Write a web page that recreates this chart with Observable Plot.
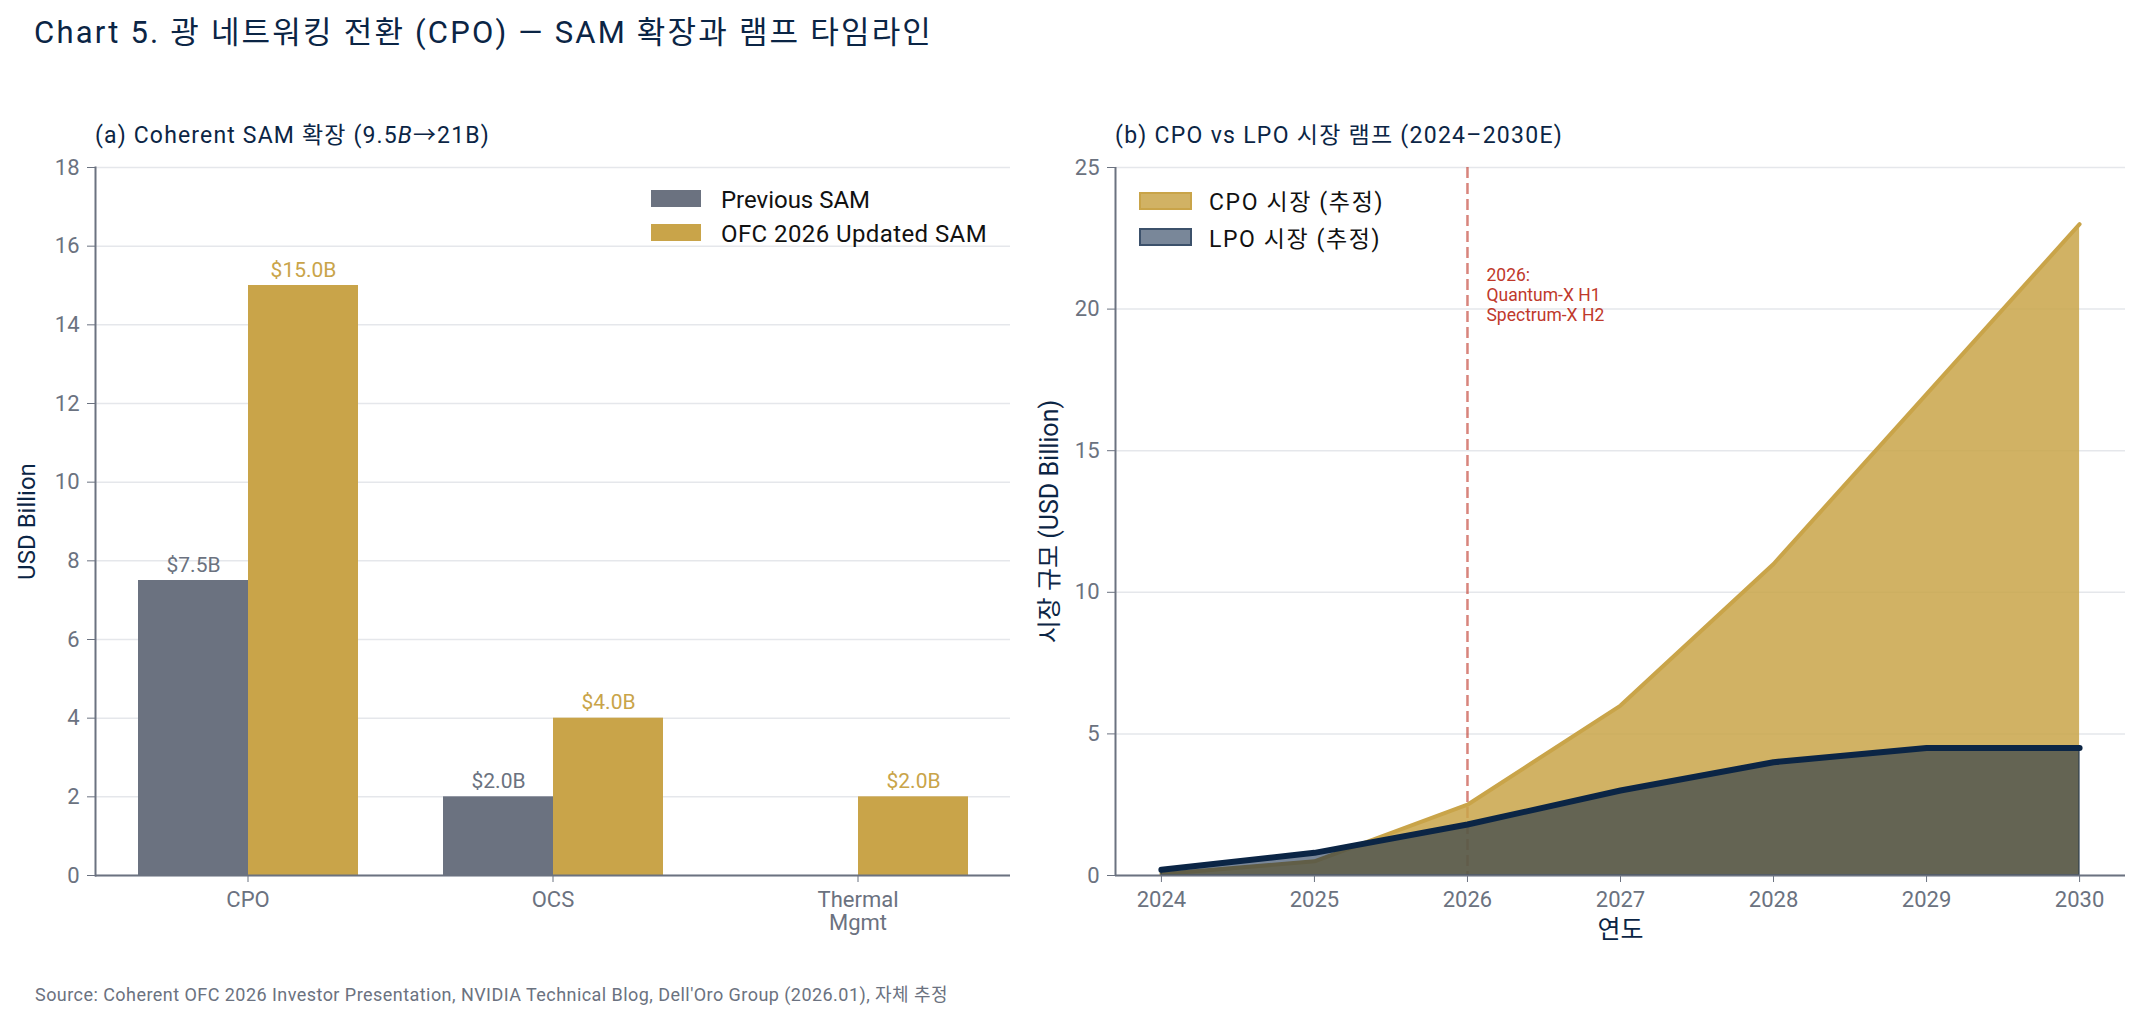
<!DOCTYPE html>
<html>
<head>
<meta charset="utf-8">
<script src="https://cdn.jsdelivr.net/npm/d3@7"></script>
<script src="https://cdn.jsdelivr.net/npm/@observablehq/plot@0.6"></script>
<style>
  body { margin: 0; background: #fff; }
  #page { position: relative; width: 2143px; height: 1021px; overflow: hidden; background: #fff;
          font-family: Roboto, "Noto Sans CJK KR", sans-serif; }
  .abs { position: absolute; white-space: nowrap; line-height: 1; }
  .plotbox { position: absolute; }
  .sw { position: absolute; box-sizing: border-box; }
</style>
</head>
<body>
<div id="page">
  <div class="abs fit" data-w="899" style="left:34px; top:17px; font-size:31px; color:#0b2545;">Chart 5. 광 네트워킹 전환 (CPO) — SAM 확장과 램프 타임라인</div>
  <div class="abs fit" data-w="395" style="left:95px; top:124px; font-size:23px; color:#0b2545;">(a) Coherent SAM 확장 (9.5<i>B</i>→21B)</div>
  <div class="abs fit" data-w="448" style="left:1115px; top:124px; font-size:23px; color:#0b2545;">(b) CPO vs LPO 시장 램프 (2024–2030E)</div>
  <div class="plotbox" id="left" style="left:0px; top:140px;"></div>
  <div class="plotbox" id="right" style="left:1000px; top:140px;"></div>

  <div class="sw" style="left:651px; top:190px; width:50px; height:17px; background:#6b7280;"></div>
  <div class="abs fit" data-w="149" style="left:721px; top:188px; font-size:24px; color:#111;">Previous SAM</div>
  <div class="sw" style="left:651px; top:224px; width:50px; height:17px; background:#c9a449;"></div>
  <div class="abs fit" data-w="266" style="left:721px; top:222px; font-size:24px; color:#111;">OFC 2026 Updated SAM</div>

  <div class="sw" style="left:1139px; top:192px; width:53px; height:18px; background:rgba(201,164,73,0.85); border:2px solid #c9a449;"></div>
  <div class="abs fit" data-w="175" style="left:1209px; top:191px; font-size:23px; color:#111;">CPO 시장 (추정)</div>
  <div class="sw" style="left:1139px; top:228px; width:53px; height:18px; background:rgba(11,37,69,0.55); border:2px solid rgba(11,37,69,0.55);"></div>
  <div class="abs fit" data-w="172" style="left:1209px; top:228px; font-size:23px; color:#111;">LPO 시장 (추정)</div>

  <div class="abs fit" data-w="913" style="left:35px; top:986px; font-size:18px; color:#6b7280;">Source: Coherent OFC 2026 Investor Presentation, NVIDIA Technical Blog, Dell'Oro Group (2026.01), 자체 추정</div>
</div>
<script>
// ---- Panel (a): Coherent SAM expansion ----
const categories = ["CPO", "OCS", "Thermal Mgmt"];
const previousSAM = [7.5, 2.0, 0];
const updatedSAM = [15.0, 4.0, 2.0];
const seriesNames = ["Previous SAM", "OFC 2026 Updated SAM"];
const seriesColors = ["#6b7280", "#c9a449"];
const barTicks = [0, 2, 4, 6, 8, 10, 12, 14, 16, 18];

// ---- Panel (b): CPO vs LPO market ramp ----
const years = [2024, 2025, 2026, 2027, 2028, 2029, 2030];
const cpoMarket = [0.05, 0.5, 2.5, 6, 11, 17, 23];
const lpoMarket = [0.2, 0.8, 1.8, 3.0, 4.0, 4.5, 4.5];
const rampTicks = [0, 5, 10, 15, 20, 25];
const rampXDomain = [2023.7, 2030.3];
const milestoneYear = 2026;
const milestoneLabelY = 21.5;
const milestoneText = "2026:\nQuantum-X H1\nSpectrum-X H2";

const font = 'Roboto, "Noto Sans CJK KR", sans-serif';
const baseStyle = {fontFamily: font, fontSize: "22px", color: "#6b7280", background: "transparent", overflow: "visible"};

const barRows = categories.flatMap((c, i) => [
  {category: c, series: seriesNames[0], value: previousSAM[i]},
  {category: c, series: seriesNames[1], value: updatedSAM[i]}
]);

const leftPlot = Plot.plot({
  width: 1040, height: 820,
  marginLeft: 94, marginRight: 29, marginTop: 27, marginBottom: 85,
  style: baseStyle,
  fx: {domain: categories, padding: 0, label: null},
  x: {domain: seriesNames, paddingInner: 0, paddingOuter: 0.385, axis: null},
  y: {domain: [0, 18], label: null},
  color: {domain: seriesNames, range: seriesColors},
  marks: [
    Plot.gridY(barTicks, {stroke: "#e5e7eb", strokeOpacity: 1, strokeWidth: 1.5}),
    Plot.barY(barRows, {fx: "category", x: "series", y: "value", fill: "series"}),
    Plot.text(barRows.filter(d => d.value > 0), {
      fx: "category", x: "series", y: "value",
      text: d => `$${d.value.toFixed(1)}B`, fill: "series",
      lineAnchor: "bottom", dy: -9, fontSize: 21
    }),
    Plot.ruleY([0], {stroke: "#6b7280", strokeWidth: 2}),
    Plot.frame({anchor: "left", facetAnchor: "left", stroke: "#6b7280", strokeWidth: 2}),
    Plot.axisY({ticks: barTicks, tickSize: 8, tickPadding: 8, label: null, fontSize: 22}),
    Plot.axisFx({anchor: "bottom", tickSize: 7, tickPadding: 9, label: null, fontSize: 22,
                 lineHeight: 1.02, tickFormat: d => d.replace(" ", "\n")}),
    Plot.text([{category: categories[0], t: "USD Billion"}], {
      fx: "category", text: "t", frameAnchor: "left", textAnchor: "middle", rotate: -90, dx: -68,
      fill: "#0b2545", fontSize: 24
    })
  ]
});
document.getElementById("left").appendChild(leftPlot);

const rampRows = years.map((y, i) => ({year: y, cpo: cpoMarket[i], lpo: lpoMarket[i]}));

const rightPlot = Plot.plot({
  width: 1143, height: 820,
  marginLeft: 115, marginRight: 18, marginTop: 27, marginBottom: 85,
  style: baseStyle,
  x: {domain: rampXDomain, label: null},
  y: {domain: [0, 25], label: null},
  marks: [
    Plot.gridY(rampTicks, {stroke: "#e5e7eb", strokeOpacity: 1, strokeWidth: 1.5}),
    Plot.ruleX([milestoneYear], {stroke: "#c0392b", strokeOpacity: 0.62, strokeWidth: 2.5, strokeDasharray: "11,5"}),
    Plot.areaY(rampRows, {x: "year", y: "cpo", fill: "#c9a449", fillOpacity: 0.85}),
    Plot.lineY(rampRows, {x: "year", y: "cpo", stroke: "#c9a449", strokeWidth: 4}),
    Plot.areaY(rampRows, {x: "year", y: "lpo", fill: "#0b2545", fillOpacity: 0.55,
                          stroke: "#0b2545", strokeOpacity: 0.55, strokeWidth: 1.5}),
    Plot.lineY(rampRows, {x: "year", y: "lpo", stroke: "#0b2545", strokeWidth: 6}),
    Plot.text([{x: milestoneYear, y: milestoneLabelY, t: milestoneText}], {
      x: "x", y: "y", text: "t", textAnchor: "start", lineAnchor: "top", dx: 19,
      fill: "#c0392b", fontSize: 17.5, lineHeight: 1.15
    }),
    Plot.ruleY([0], {stroke: "#6b7280", strokeWidth: 2}),
    Plot.ruleX([rampXDomain[0]], {stroke: "#6b7280", strokeWidth: 2}),
    Plot.axisY({ticks: rampTicks, tickSize: 8, tickPadding: 8, label: null, fontSize: 22}),
    Plot.axisX({ticks: years, tickFormat: d => String(d), tickSize: 7, tickPadding: 9, label: null, fontSize: 22}),
    Plot.text(["시장 규모 (USD Billion)"], {text: d => d, frameAnchor: "left", textAnchor: "middle", rotate: -90, dx: -66,
                                        fill: "#0b2545", fontSize: 25}),
    Plot.text(["연도"], {text: d => d, frameAnchor: "bottom", textAnchor: "middle", dy: 62, fill: "#0b2545", fontSize: 25})
  ]
});
document.getElementById("right").appendChild(rightPlot);

// stretch HTML texts to the reference text widths via letter-spacing
function fitTexts() {
  document.querySelectorAll(".fit").forEach(el => {
    el.style.letterSpacing = "0px";
    const w = el.getBoundingClientRect().width;
    const n = el.textContent.length;
    const target = +el.dataset.w;
    el.style.letterSpacing = ((target - w) / n).toFixed(2) + "px";
  });
}
fitTexts();
if (document.fonts && document.fonts.ready) document.fonts.ready.then(fitTexts);
</script>
</body>
</html>
